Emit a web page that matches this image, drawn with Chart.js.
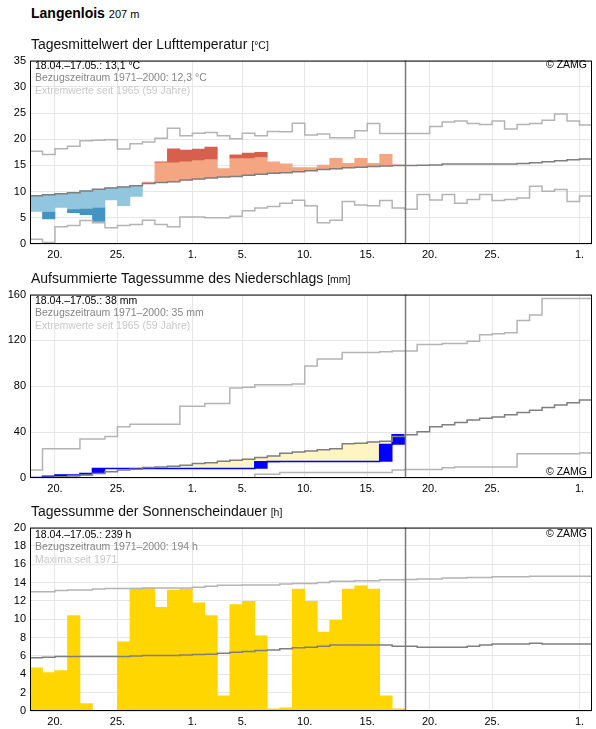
<!DOCTYPE html>
<html>
<head>
<meta charset="utf-8">
<script src="https://cdn.jsdelivr.net/npm/chart.js@4.4.1/dist/chart.umd.min.js"></script>
<style>
  body { margin: 0; width: 596px; height: 729px; overflow: hidden; background: #fff;
         font-family: "Liberation Sans", Arial, sans-serif; position: relative; }
  canvas { position: absolute; left: 0; }
  .abs { position: absolute; white-space: nowrap; }
  .title { left: 31px; font-size: 14px; line-height: 14px; color: #111; }
  .unit { font-size: 10.5px; }
  .info { left: 35px; font-size: 10.5px; line-height: 12.3px; }
  .c2 { color: #858585; }
  .c3 { color: #c8c8c8; }
  .zamg { right: 9px; font-size: 10.5px; line-height: 12.3px; }
</style>
</head>
<body>
<canvas id="temp" width="596" height="210" style="top:50px"></canvas>
<canvas id="rain" width="596" height="210" style="top:284px"></canvas>
<canvas id="sun" width="596" height="210" style="top:517px"></canvas>

<div class="abs" style="left:31px;top:6px;font-size:14px;line-height:14px;font-weight:bold">Langenlois <span style="font-size:11px;font-weight:normal">207 m</span></div>

<div class="abs title" style="top:37px">Tagesmittelwert der Lufttemperatur <span class="unit">[°C]</span></div>
<div class="abs info" style="top:59px">18.04.–17.05.: 13,1 °C<br><span class="c2">Bezugszeitraum 1971–2000: 12,3 °C</span><br><span class="c3">Extremwerte seit 1965 (59 Jahre)</span></div>
<div class="abs zamg" style="top:58px">© ZAMG</div>

<div class="abs title" style="top:271px">Aufsummierte Tagessumme des Niederschlags <span class="unit">[mm]</span></div>
<div class="abs info" style="top:294px">18.04.–17.05.: 38 mm<br><span class="c2">Bezugszeitraum 1971–2000: 35 mm</span><br><span class="c3">Extremwerte seit 1965 (59 Jahre)</span></div>
<div class="abs zamg" style="top:465px">© ZAMG</div>

<div class="abs title" style="top:504px">Tagessumme der Sonnenscheindauer <span class="unit">[h]</span></div>
<div class="abs info" style="top:528px">18.04.–17.05.: 239 h<br><span class="c2">Bezugszeitraum 1971–2000: 194 h</span><br><span class="c3">Maxima seit 1971</span></div>
<div class="abs zamg" style="top:527px">© ZAMG</div>

<script>
// x axis: days counted from 18.04. (0) to 02.06. (45)
const dayCount = 45;
const todayMark = 30;
const tickDays = [2, 7, 13, 17, 22, 27, 32, 37, 44];
const tickLabels = ["20.", "25.", "1.", "5.", "10.", "15.", "20.", "25.", "1."];

// temperature, daily mean 18.04.-17.05.
const tempMean = [6.2, 4.8, 7.0, 6.0, 5.6, 4.3, 8.4, 7.3, 9.1, 11.8,
  15.7, 18.15, 17.9, 18.1, 18.5, 14.4, 17.0, 17.35, 17.5, 15.7,
  15.3, 14.6, 14.6, 15.05, 16.35, 15.4, 16.35, 15.4, 17.1, 15.1];
const tempLowBand = [6.0, 6.2, 6.4, 6.7, 6.8, 7.0, 7.1, 7.2, 7.4, 7.7,
  7.9, 8.1, 8.3, 8.5, 8.7, 8.9, 9.0, 9.2, 9.4, 9.6,
  9.7, 9.9, 10.1, 10.3, 10.4, 10.6, 10.7, 10.9, 11.0, 11.1];
const tempHighBand = [12.8, 13.0, 13.2, 13.4, 13.7, 14.0, 14.2, 14.4, 14.6, 15.1,
  15.5, 15.5, 15.7, 15.9, 16.1, 16.2, 16.3, 16.3, 16.5, 16.7,
  16.8, 17.0, 17.2, 17.4, 17.5, 17.7, 17.8, 17.9, 18.0, 18.1];
const tempNormal = [9.2, 9.4, 9.6, 9.8, 10.1, 10.45, 10.7, 10.9, 11.1, 11.55,
  11.75, 11.9, 12.2, 12.4, 12.6, 12.8, 12.9, 13.1, 13.3, 13.5,
  13.6, 13.8, 14.0, 14.2, 14.35, 14.55, 14.65, 14.8, 14.9, 15.0,
  15.0, 15.05, 15.1, 15.25, 15.25, 15.25, 15.25, 15.25, 15.25, 15.35,
  15.5, 15.7, 15.9, 16.1, 16.2];
const tempMax = [17.7, 17.1, 18.2, 18.65, 19.7, 19.8, 19.9, 18.15, 19.15, 19.45,
  20.2, 22.1, 20.65, 21.15, 21.3, 20.65, 20.1, 21.15, 20.65, 21.45,
  21.4, 23.05, 20.8, 21.0, 20.3, 20.3, 21.6, 23.0, 21.1, 21.1,
  21.1, 21.1, 22.4, 23.3, 23.45, 23.0, 22.8, 23.45, 21.95, 22.8,
  23.0, 23.6, 24.8, 23.45, 22.7];
const tempMin = [0.9, 0.3, 3.3, 3.55, 4.5, 4.05, 3.1, 3.55, 3.7, 4.55,
  3.7, 3.3, 5.15, 5.15, 5.0, 5.0, 5.3, 6.35, 6.85, 7.15,
  7.8, 8.35, 7.3, 4.05, 4.55, 8.1, 7.45, 7.3, 8.3, 6.85,
  6.65, 9.45, 8.4, 9.45, 7.8, 8.5, 9.45, 8.3, 8.5, 8.8,
  11.0, 10.05, 10.4, 8.1, 9.15];

// precipitation, accumulated
const rainSum = [0.5, 1.5, 2.6, 2.6, 4.0, 8.3, 8.3, 8.3, 8.3, 8.3,
  8.3, 8.3, 8.3, 8.3, 8.3, 8.3, 8.3, 8.3, 14.1, 14.3,
  14.3, 14.3, 14.3, 14.3, 14.3, 14.3, 14.3, 14.5, 29.2, 37.8];
const rainNormal = [0.3, 0.6, 1.1, 1.8, 2.6, 4.0, 5.4, 6.9, 7.7, 9.2,
  9.6, 10.3, 11.2, 12.6, 13.2, 14.6, 15.5, 16.3, 17.8, 19.2,
  21.5, 22.7, 23.5, 24.7, 25.5, 29.8, 30.4, 31.5, 32.1, 36.1,
  37.8, 40.4, 44.7, 46.5, 48.5, 50.5, 52.2, 53.3, 55.1, 57.1,
  59.1, 61.4, 63.7, 65.7, 68.0];
const rainMax = [6.9, 25.5, 25.5, 25.5, 34.1, 34.1, 36.1, 44.7, 47.0, 47.0,
  47.0, 47.0, 62.5, 62.5, 65.1, 65.1, 78.6, 79.1, 81.4, 81.4,
  81.4, 82.0, 97.8, 103.8, 103.8, 109.5, 109.5, 109.5, 110.1, 110.7,
  110.7, 116.4, 116.4, 117.3, 117.3, 119.3, 125.0, 125.9, 126.7, 137.3,
  142.2, 156.6, 156.6, 156.6, 156.6];
const rainMin = [0, 0, 0, 0, 0, 0, 0, 0, 0, 0,
  0, 0, 0.3, 0.3, 0.3, 0.3, 0.3, 0.3, 3.2, 3.2,
  4.9, 4.9, 4.9, 4.9, 4.9, 4.9, 4.9, 4.9, 4.9, 6.9,
  7.5, 7.5, 7.5, 8.9, 9.7, 9.7, 9.7, 9.7, 9.7, 21.2,
  21.2, 21.2, 21.2, 21.2, 21.8];

// sunshine duration
const sunHours = [4.7, 4.2, 4.4, 10.4, 0.8, 0, 0, 7.55, 13.4, 13.4,
  11.3, 13.2, 13.3, 11.8, 10.4, 1.65, 11.6, 11.95, 8.2, 0.25,
  0.35, 13.3, 11.95, 8.6, 9.9, 13.3, 13.65, 13.3, 1.65, 0.25];
const sunNormal = [5.8, 5.85, 5.95, 5.95, 5.95, 5.95, 5.95, 5.95, 6.0, 6.05,
  6.05, 6.05, 6.1, 6.15, 6.2, 6.3, 6.4, 6.5, 6.6, 6.65,
  6.8, 6.9, 6.95, 7.05, 7.2, 7.2, 7.2, 7.2, 7.2, 7.05,
  7.05, 6.95, 6.95, 6.95, 6.95, 7.05, 7.2, 7.3, 7.3, 7.3,
  7.4, 7.3, 7.3, 7.3, 7.3];
const sunMax = [13.0, 13.0, 13.15, 13.2, 13.2, 13.3, 13.35, 13.35, 13.35, 13.4,
  13.4, 13.4, 13.4, 13.5, 13.6, 13.7, 13.7, 13.75, 13.75, 13.75,
  13.85, 13.9, 13.9, 14.0, 14.15, 14.15, 14.2, 14.2, 14.3, 14.3,
  14.35, 14.4, 14.4, 14.5, 14.5, 14.55, 14.55, 14.65, 14.65, 14.65,
  14.7, 14.7, 14.7, 14.7, 14.7];

Chart.defaults.font.family = "'Liberation Sans', Arial, sans-serif";
Chart.defaults.font.size = 11;
Chart.defaults.color = "#000";

// one value per day, held over the whole day
const steps = function (vals) {
  const pts = vals.map((v, i) => ({ x: i, y: v }));
  pts.push({ x: vals.length, y: vals[vals.length - 1] });
  return pts;
};

const floating = function (pairs) {
  return pairs
    .map((p, i) => (p ? { x: i + 0.5, y: p } : null))
    .filter((p) => p !== null);
};

const stepLine = function (vals, color, width) {
  return {
    type: "line",
    data: steps(vals),
    borderColor: color,
    borderWidth: width,
    stepped: true,
    pointRadius: 0,
    fill: false,
    order: 0,
  };
};

const barSet = function (pairs, color) {
  return {
    type: "bar",
    data: floating(pairs),
    backgroundColor: color,
    borderWidth: 0,
    grouped: false,
    barPercentage: 1,
    categoryPercentage: 1,
    order: 2,
  };
};

const framePlugin = {
  id: "frame",
  afterDatasetsDraw(chart) {
    const { ctx, chartArea: a } = chart;
    const px = Math.round(chart.scales.x.getPixelForValue(todayMark)) + 0.5;
    ctx.save();
    ctx.strokeStyle = "#7a7a7a";
    ctx.lineWidth = 1.5;
    ctx.beginPath();
    ctx.moveTo(px, a.top);
    ctx.lineTo(px, a.bottom);
    ctx.stroke();
    ctx.strokeStyle = "#000";
    ctx.lineWidth = 1;
    ctx.strokeRect(a.left + 0.5, a.top + 0.5, a.right - a.left - 1, a.bottom - a.top - 1);
    ctx.restore();
  },
};

const configFor = function (datasets, yMax, yStep) {
  return {
    type: "line",
    data: { datasets: datasets },
    plugins: [framePlugin],
    options: {
      responsive: false,
      animation: false,
      layout: { padding: { left: 0, right: 4, top: 8, bottom: 0 } },
      plugins: { legend: { display: false }, tooltip: { enabled: false } },
      scales: {
        x: {
          type: "linear",
          min: 0,
          max: dayCount,
          offset: false,
          afterBuildTicks: (s) => {
            s.ticks = tickDays.map((v) => ({ value: v }));
          },
          afterFit: (s) => {
            s.height = 16;
          },
          grid: { color: "#e6e6e6", drawTicks: false, offset: false },
          border: { display: false },
          ticks: {
            padding: 4,
            autoSkip: false,
            maxRotation: 0,
            callback: (v, i) => tickLabels[i],
          },
        },
        y: {
          min: 0,
          max: yMax,
          afterFit: (s) => {
            s.width = 30;
          },
          grid: { color: "#e6e6e6", drawTicks: false },
          border: { display: false },
          ticks: { stepSize: yStep, padding: 4 },
        },
      },
    },
  };
};

const tempCharts = function () {
  const light = tempMean.map((v, i) => {
    const n = tempNormal[i];
    return v >= n ? [n, Math.min(v, tempHighBand[i])] : null;
  });
  const lightCold = tempMean.map((v, i) => {
    const n = tempNormal[i];
    return v < n ? [Math.max(v, tempLowBand[i]), n] : null;
  });
  const darkWarm = tempMean.map((v, i) => (v > tempHighBand[i] ? [tempHighBand[i], v] : null));
  const darkCold = tempMean.map((v, i) => (v < tempLowBand[i] ? [v, tempLowBand[i]] : null));
  return [
    stepLine(tempNormal, "#7f7f7f", 1.5),
    stepLine(tempMax, "#b4b4b4", 1.5),
    stepLine(tempMin, "#b4b4b4", 1.5),
    barSet(light, "#f4a582"),
    barSet(lightCold, "#92c5de"),
    barSet(darkWarm, "#d6604d"),
    barSet(darkCold, "#4393c3"),
  ];
};

const rainCharts = function () {
  const deficit = rainSum.map((v, i) => (rainNormal[i] > v ? [v, rainNormal[i]] : null));
  const daily = rainSum.map((v, i) => {
    const prev = i === 0 ? 0 : rainSum[i - 1];
    return v > prev ? [prev, v] : null;
  });
  const obs = stepLine(rainSum, "#0000ff", 1.5);
  obs.order = 1;
  const deficitSet = barSet(deficit, "#fff5c2");
  deficitSet.order = 3;
  return [
    stepLine(rainNormal, "#7f7f7f", 1.5),
    stepLine(rainMax, "#b4b4b4", 1.5),
    stepLine(rainMin, "#b4b4b4", 1.5),
    obs,
    barSet(daily, "#0000ff"),
    deficitSet,
  ];
};

const sunCharts = function () {
  return [
    stepLine(sunNormal, "#7f7f7f", 1.5),
    stepLine(sunMax, "#b4b4b4", 1.5),
    barSet(sunHours.map((v) => (v > 0 ? [0, v] : null)), "#ffd600"),
  ];
};

const init = function () {
  new Chart(document.getElementById("temp"), configFor(tempCharts(), 35, 5));
  new Chart(document.getElementById("rain"), configFor(rainCharts(), 160, 40));
  new Chart(document.getElementById("sun"), configFor(sunCharts(), 20, 2));
};

init();
</script>
</body>
</html>
